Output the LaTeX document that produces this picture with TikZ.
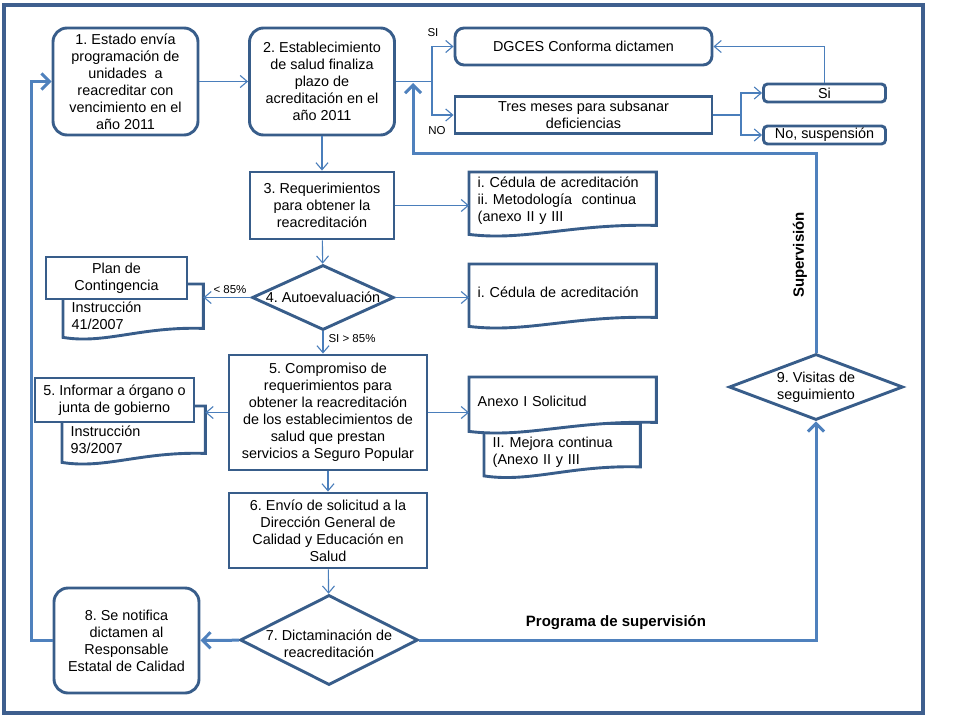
\documentclass[tikz,border=0pt]{standalone}
\usepackage{fontspec}
\setmainfont{Liberation Sans}
\usetikzlibrary{arrows.meta,shapes.geometric,calc,backgrounds}
\definecolor{boxline}{HTML}{385D8A}
\definecolor{flowline}{HTML}{4A7EBB}
\definecolor{thickline}{HTML}{4F81BD}
\definecolor{framec}{HTML}{3E5F8E}
\frenchspacing
% document symbol drawn behind a named node; #2 = part hidden above the node
\newcommand\docshape[2]{%
 \begin{scope}[on background layer]
 \filldraw[docline] ($(#1.south west)+(0,5)$) -- ($(#1.north west)+(0,-#2)$)
  -- ($(#1.north east)+(0,-#2)$) -- ($(#1.south east)+(0,-4)$)
  .. controls ($(#1.south west)!0.55!(#1.south east)+(0,-6)$) and ($(#1.south west)!0.3!(#1.south east)+(0,12)$) .. ($(#1.south west)+(0,5)$) -- cycle;
 \end{scope}}

\begin{document}
\begin{tikzpicture}[x=1pt,y=-1pt,
 every node/.style={font=\fontsize{14.4}{17}\selectfont},
 rbox/.style={draw=boxline,line width=2.9pt,fill=white,rounded corners=14pt,align=center,inner sep=2pt},
 sbox/.style={rbox,rounded corners=0pt},
 dec/.style={diamond,draw=boxline,line width=2.9pt,fill=white,align=center,inner sep=-4pt},
 doc/.style={anchor=north west,align=left,inner xsep=8.5pt,inner ysep=0pt},
 docline/.style={draw=boxline,line width=2.9pt,fill=white},
 flow/.style={draw=flowline,line width=1.1pt,-{Straight Barb[length=7pt,width=12pt]}},
 flowplain/.style={draw=flowline,line width=1.1pt},
 bigflow/.style={draw=thickline,line width=3pt,-{Straight Barb[length=8pt,width=16pt]}},
 tag/.style={font=\fontsize{11.5}{13}\selectfont,inner sep=1pt},
 heading/.style={font=\bfseries\fontsize{15}{18}\selectfont}]
\useasboundingbox (0,0) rectangle (960,720);
\draw[draw=framec,line width=4pt] (4,5) rectangle (923,713);

% main column
\node[rbox,minimum width=145pt,minimum height=107pt] (b1) at (125.5,81.5)
 {1. Estado envía\\programación de\\unidades\ \ a\\reacreditar con\\vencimiento en el\\año 2011};
\node[rbox,minimum width=145pt,minimum height=107pt] (b2) at (322,81.5)
 {2. Establecimiento\\de salud finaliza\\plazo de\\acreditación en el\\año 2011};
\node[rbox,rounded corners=9pt,minimum width=257pt,minimum height=37pt] (dg) at (583.5,46.5) {DGCES Conforma dictamen};
\node[sbox,minimum width=257pt,minimum height=37pt] (tres) at (583.5,115) {Tres meses para subsanar\\deficiencias};
\node[rbox,rounded corners=4pt,minimum width=122pt,minimum height=18pt,inner sep=0pt] (si) at (824.5,93) {Si};
\node[rbox,rounded corners=4pt,minimum width=122pt,minimum height=18pt,inner sep=0pt] (nosus) at (824.5,135) {No, suspensión};
\node[sbox,minimum width=144pt,minimum height=67pt] (b3) at (322,205.5) {3. Requerimientos\\para obtener la\\reacreditación};
\node[dec,aspect=2.18,minimum width=142pt,minimum height=65pt] (b4) at (323,297.5) {4. Autoevaluación};
\node[sbox,minimum width=198pt,minimum height=115pt] (b5) at (328,412.5)
 {5. Compromiso de\\requerimientos para\\obtener la reacreditación\\de los establecimientos de\\salud que prestan\\servicios a Seguro Popular};
\node[sbox,minimum width=198pt,minimum height=75pt] (b6) at (328,530.5)
 {6. Envío de solicitud a la\\Dirección General de\\Calidad y Educación en\\Salud};
\node[dec,aspect=1.98,minimum width=178pt,minimum height=90pt] (b7) at (329,640)
 {\rule{0pt}{19pt}7. Dictaminación de\\reacreditación};
\node[rbox,minimum width=145pt,minimum height=105pt] (b8) at (126.5,640.5)
 {8. Se notifica\\dictamen al\\Responsable\\Estatal de Calidad};
\node[dec,aspect=2.64,minimum width=174pt,minimum height=66pt] (b9) at (816,387) {9. Visitas de\\seguimiento};

% documents
\node[doc,text width=170pt,minimum height=57pt] (d3) at (469,172)
 {i. Cédula de acreditación\\ii. Metodología\ \ continua\\(anexo II y III};
\docshape{d3}{0}
\node[doc,text width=170pt,minimum height=57pt] (d4) at (469,264) {i. Cédula de acreditación};
\docshape{d4}{0}
\node[doc,text width=123pt,minimum height=33pt] (i41) at (63,299) {Instrucción\\41/2007};
\docshape{i41}{15}
\node[sbox,minimum width=141pt,minimum height=42pt] (plan) at (116.5,278) {Plan de\\Contingencia};
\node[doc,text width=126pt,minimum height=35pt] (i93) at (62,422) {Instrucción\\93/2007};
\docshape{i93}{16}
\node[sbox,minimum width=159pt,minimum height=44pt] (inf) at (114.5,400) {5. Informar a órgano o\\junta de gobierno};
\node[doc,text width=139pt,minimum height=37pt] (mej) at (484,433.5) {II. Mejora continua\\(Anexo II y III};
\docshape{mej}{10}
\node[doc,text width=170pt,minimum height=49pt] (anx) at (469,377) {Anexo I Solicitud};
\docshape{anx}{0}

% labels
\node[tag] (silab) at (433,33) {SI};
\node[tag] (nolab) at (437,131) {NO};
\node[tag] (lt85) at (230,290) {< 85\%};
\node[tag] (ge85) at (352,339) {SI > 85\%};
\node[heading,rotate=90] (svlab) at (800,255) {Supervisión};
\node[heading] (prlab) at (616,623) {Programa de supervisión};

% connectors
\coordinate (jn) at (432,81.5);
\coordinate (jn2) at (741,115);
\draw[flow] (b1) -- (b2);
\draw[flowplain] (b2.east) -- (jn);
\draw[flow] (jn) |- (dg.west);
\draw[flow] (jn) |- (tres.west);
\draw[flowplain] (tres.east) -- (jn2);
\draw[flow] (jn2) |- (si.west);
\draw[flow] (jn2) |- (nosus.west);
\draw[flow] (si.north) |- (dg.east);
\draw[flow] (b2) -- (b3);
\draw[flow] (b3.east) -- (b3.east -| d3.west);
\draw[flow] (b3) -- (b4);
\draw[flow] (b4.east) -- (b4.east -| d4.west);
\draw[flow] (b4.west) -- (b4.west -| i41.east);
\draw[flow] (b4.south) -- (b4.south |- b5.north);
\draw[flow] (b5.west) -- (b5.west -| i93.east);
\draw[flow] (b5.east) -- (b5.east -| anx.west);
\draw[flow] (b5.south) -- (b6.north);
\draw[flow] (b6) -- (b7);
\draw[bigflow] (b7) -- (b8);
\coordinate (lc) at (31,640.5);
\draw[bigflow] (b8.west) -- (lc) |- (b1.west);
\draw[bigflow] (b7.east) -| (b9.south);
\coordinate (svturn) at (413,153);
\coordinate (sv) at (413,83);
\draw[bigflow] (b9.north) |- (svturn) -- (sv);
\end{tikzpicture}
\end{document}
